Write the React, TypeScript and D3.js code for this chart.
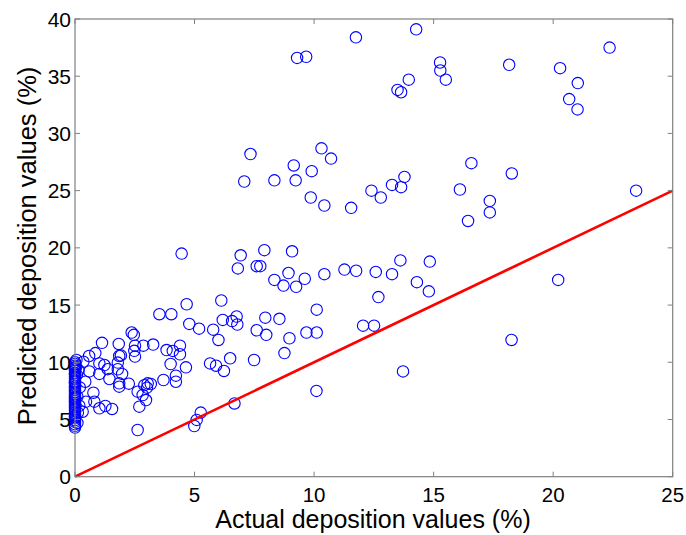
import React from "react";
import * as d3 from "d3";

const xTicks = [0, 5, 10, 15, 20, 25];
const yTicks = [0, 5, 10, 15, 20, 25, 30, 35, 40];
const xLabel = "Actual deposition values (%)";
const yLabel = "Predicted deposition values (%)";

// points with actual value 0 (stacked at left edge)
const zeroX = [0, 0, 0, 0, 0, 0, 0, 0, 0, 0, 0, 0, 0, 0, 0, 0, 0, 0, 0, 0, 0, 0, 0, 0, 0, 0, 0, 0, 0, 0, 0, 0, 0, 0, 0, 0, 0, 0, 0, 0.05, 0.08, 0.1, 0.12, 0.15, 0.18, 0.2, 0.06, 0.1];
const zeroY = [4.3, 4.45, 4.6, 4.8, 4.95, 5.1, 5.3, 5.45, 5.6, 5.8, 5.95, 6.1, 6.3, 6.45, 6.6, 6.75, 6.95, 7.1, 7.25, 7.4, 7.6, 7.75, 7.9, 8.1, 8.25, 8.4, 8.6, 8.75, 8.9, 9.05, 9.25, 9.4, 9.55, 9.7, 9.85, 10.0, 5.2, 6.9, 8.3, 9.6, 8.9, 7.0, 5.6, 9.3, 6.2, 7.8, 10.2, 4.7];

const actual = [
  11.75, 14.27, 22.36, 9.29, 9.67, 15.27, 15.28, 15.51, 13.96, 13.49, 13.64, 18.16, 20.29, 21.03, 20.67, 21.02,
  16.58, 18.27, 7.34, 10.31, 10.71, 9.15, 9.9, 7.08, 8.34, 9.23, 13.78,
  9.86, 10.43, 11.55, 12.4, 12.79, 13.26, 13.64, 16.1, 17.35, 17.35, 16.44, 23.47, 20.21, 18.26,
  6.93, 7.92, 9.08, 6.81, 7.6, 7.75, 8.34, 8.93, 8.72, 9.25, 9.61, 10.43, 11.27, 11.76, 12.58, 13.26, 13.61, 14.84, 14.3, 14.8, 12.69, 10.11, 12.05, 12.51,
  7.96, 8.55, 7.6, 8.0, 8.97, 9.68, 10.11, 6.57, 6.76, 6.79, 6.18, 6.12,
  13.72, 10.1, 6.67, 8.76, 7.49, 6.49, 6.23, 6.0, 5.65, 5.9,
  4.46, 4.67, 3.53, 4.03, 4.78, 5.19, 5.78, 3.27, 4.39, 3.83, 4.09, 4.39, 4.0, 4.64, 3.7, 4.22, 4.22, 3.17,
  5.26, 5.09, 4.99,
  2.37, 2.46, 1.13, 1.83, 2.51, 2.86,
  0.85, 0.59, 0.35, 1.02, 1.85, 1.92, 2.48, 2.51, 1.79, 1.23, 1.37, 1.02, 1.44, 1.79, 1.97, 1.85, 2.25, 1.85, 2.9, 3.01, 3.04, 2.62, 2.83, 2.97, 2.69,
  0.6, 0.43, 0.77, 0.81, 1.02, 1.27, 1.55, 0.46, 0.32, 2.62
];
const predicted = [
  38.4, 39.1, 37.5, 36.6, 36.7, 36.2, 35.5, 34.7, 34.7, 33.8, 33.6, 36.0, 35.7, 34.4, 33.0, 32.1,
  27.4, 26.5, 28.2, 28.7, 27.8, 27.2, 26.7, 25.8, 25.9, 25.9, 26.2,
  24.4, 23.7, 23.5, 25.0, 24.4, 25.5, 25.3, 25.1, 24.1, 23.1, 22.35, 25.0, 17.2, 11.95,
  19.35, 19.8, 19.7, 18.2, 18.4, 18.4, 17.2, 17.8, 16.7, 16.6, 17.3, 17.7, 18.1, 18.0, 17.9, 17.7, 18.9, 18.8, 17.0, 16.2, 15.7, 14.6, 13.2, 13.2,
  13.9, 13.8, 12.8, 12.4, 12.1, 12.6, 12.6, 13.6, 14.0, 13.3, 13.7, 15.4,
  9.2, 7.5, 6.4, 10.8, 10.2, 10.35, 9.24, 11.95, 9.9, 9.7,
  19.5, 15.07, 14.2, 14.2, 13.35, 12.94, 12.85, 11.55, 11.45, 11.07, 10.99, 10.7, 9.85, 9.56, 8.45, 8.83, 8.3, 8.1,
  5.6, 4.96, 4.43,
  12.6, 12.4, 11.7, 11.6, 11.45, 11.45,
  10.8, 10.55, 10.05, 9.9, 10.55, 10.6, 11.0, 10.5, 9.97, 9.76, 9.4, 8.98, 8.54, 9.39, 8.98, 8.16, 8.13, 7.87, 8.0, 7.78, 8.16, 7.43, 7.14, 6.7, 6.12,
  9.2, 8.3, 7.34, 6.56, 5.98, 6.18, 5.92, 6.56, 5.68, 4.08
];

const lineX = [0, 25];
const lineY = [0, 25];

export default function App() {
  const W = 686, H = 535;
  const left = 75, right = 672.7, top = 19, bottom = 476.7;
  const x = d3.scaleLinear().domain([0, 25]).range([left, right]);
  const y = d3.scaleLinear().domain([0, 40]).range([bottom, top]);
  const axisColor = "#808080";
  const font = "Arial, 'Liberation Sans', sans-serif";
  const tl = 5;

  const pts = [
    ...zeroX.map((v, i) => [v, zeroY[i]]),
    ...actual.map((v, i) => [v, predicted[i]]),
  ];
  const line = d3.line<number>().x((_, i) => x(lineX[i])).y((_, i) => y(lineY[i]));

  return (
    <svg width={W} height={H} style={{ position: "absolute", left: 0, top: 0, background: "#fff" }}>
      <rect x={0} y={0} width={W} height={H} fill="#fff" />
      <g>
        {pts.map((p, i) => (
          <circle key={i} cx={x(p[0])} cy={y(p[1])} r={5.7} fill="none" stroke="#0000ff" strokeWidth={1.1} />
        ))}
      </g>
      <path d={line(lineX) || ""} fill="none" stroke="#ff0000" strokeWidth={2.6} />
      <rect x={left} y={top} width={right - left} height={bottom - top} fill="none" stroke={axisColor} strokeWidth={1.2} />
      {xTicks.map((t) => (
        <g key={"x" + t}>
          <line x1={x(t)} x2={x(t)} y1={bottom} y2={bottom - tl} stroke={axisColor} />
          <line x1={x(t)} x2={x(t)} y1={top} y2={top + tl} stroke={axisColor} />
          <text x={x(t)} y={501.5} textAnchor="middle" fontFamily={font} fontSize={20.5} fill="#000">{t}</text>
        </g>
      ))}
      {yTicks.map((t) => (
        <g key={"y" + t}>
          <line x1={left} x2={left + tl} y1={y(t)} y2={y(t)} stroke={axisColor} />
          <line x1={right} x2={right - tl} y1={y(t)} y2={y(t)} stroke={axisColor} />
          <text x={71} y={y(t) + 7.5} textAnchor="end" fontFamily={font} fontSize={21} fill="#000">{t}</text>
        </g>
      ))}
      <text x={373} y={528} textAnchor="middle" fontFamily={font} fontSize={25} fill="#000">{xLabel}</text>
      <text transform={`translate(36,246) rotate(-90)`} textAnchor="middle" fontFamily={font} fontSize={25.5} fill="#000">{yLabel}</text>
    </svg>
  );
}
